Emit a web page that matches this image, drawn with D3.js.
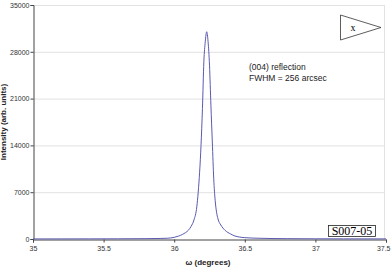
<!DOCTYPE html>
<html>
<head>
<meta charset="utf-8">
<script src="https://cdn.jsdelivr.net/npm/d3@7"></script>
<style>
  body { margin: 0; background: #fff; }
  svg { display: block; font-family: "Liberation Sans", Arial, sans-serif; }
</style>
</head>
<body>
<div id="mydiv"></div>
<script>
// rocking curve
const omega = [35.00, 35.20, 35.40, 35.60, 35.80, 35.90, 35.95, 36.00, 36.03, 36.06,
  36.08, 36.10, 36.12, 36.14, 36.16, 36.17, 36.18, 36.19, 36.20, 36.21,
  36.22, 36.23, 36.24, 36.25, 36.26, 36.27, 36.28, 36.29, 36.30, 36.31,
  36.33, 36.36, 36.40, 36.43, 36.46, 36.50, 36.60, 36.70, 36.80, 37.00,
  37.20, 37.50];
const intensity = [10, 15, 20, 30, 50, 80, 110, 250, 430, 700,
  950, 1300, 1900, 2850, 4800, 7000, 10000, 14000, 19500, 26500,
  29500, 31000, 29500, 26000, 20000, 14500, 9000, 5800, 4000, 3000,
  2100, 1300, 750, 450, 300, 200, 110, 70, 50, 30,
  20, 15];
const xTicks = [35, 35.5, 36, 36.5, 37, 37.5];
const yTicks = [0, 7000, 14000, 21000, 28000, 35000];
const notes = ["(004) reflection", "FWHM = 256 arcsec"];
const sampleId = "S007-05";

const W = 391, H = 268;
const mLeft = 33, mRight = 386, mTop = 5, mBottom = 239;

const svg = d3.select("#mydiv")
  .append("svg")
  .attr("width", W)
  .attr("height", H);

const x = d3.scaleLinear().domain([35, 37.5]).range([mLeft, mRight]);
const y = d3.scaleLinear().domain([0, 35000]).range([mBottom, mTop]);

// grid lines
svg.append("g")
  .selectAll("line")
  .data(yTicks.slice(1))
  .enter().append("line")
  .attr("x1", mLeft).attr("x2", mRight - 1.5)
  .attr("y1", d => y(d) + 0.5).attr("y2", d => y(d) + 0.5)
  .style("stroke", "#e2e2e2")
  .style("stroke-width", 1);

// right border
svg.append("line")
  .attr("x1", mRight - 1.5).attr("x2", mRight - 1.5)
  .attr("y1", mTop).attr("y2", mBottom)
  .style("stroke", "#e2e2e2");

// y axis
const yAxis = svg.append("g")
  .attr("transform", `translate(${mLeft + 0.5},0)`)
  .call(d3.axisLeft(y).tickValues(yTicks).tickSize(3).tickFormat(d3.format("d")));
yAxis.select(".domain").style("stroke", "#444");
yAxis.selectAll(".tick line").style("stroke", "#444");
yAxis.selectAll("text")
  .style("font-size", "7px")
  .style("fill", "#333")
  .attr("x", -4);

// x axis
const xAxis = svg.append("g")
  .attr("transform", `translate(0,${mBottom + 0.5})`)
  .call(d3.axisBottom(x).tickValues(xTicks).tickSize(3).tickFormat(d3.format("")));
xAxis.select(".domain").style("stroke", "#444");
xAxis.selectAll(".tick line").style("stroke", "#444");
xAxis.selectAll("text")
  .style("font-size", "7px")
  .style("fill", "#333")
  .attr("y", 7);
// keep the last label inside the window
xAxis.selectAll(".tick text")
  .filter(d => d === 37.5)
  .attr("text-anchor", "end")
  .attr("x", 4);

// the curve
const pts = omega.map((o, i) => [o, intensity[i]]);
svg.append("path")
  .datum(pts)
  .attr("d", d3.line().x(d => x(d[0])).y(d => y(d[1])).curve(d3.curveMonotoneX))
  .style("fill", "none")
  .style("stroke", "#5a5ab0")
  .style("stroke-width", 1);

// axis titles
svg.append("text")
  .attr("x", 208).attr("y", 265)
  .attr("text-anchor", "middle")
  .style("font-size", "8px")
  .style("font-weight", "bold")
  .style("fill", "#222")
  .text("ω (degrees)");

svg.append("text")
  .attr("transform", "translate(6,122) rotate(-90)")
  .attr("text-anchor", "middle")
  .style("font-size", "8px")
  .style("font-weight", "bold")
  .style("fill", "#222")
  .text("Intensity (arb. units)");

// annotation
svg.append("g")
  .selectAll("text")
  .data(notes)
  .enter().append("text")
  .attr("x", 249)
  .attr("y", (d, i) => 70 + i * 11)
  .style("font-size", "8.5px")
  .style("fill", "#222")
  .text(d => d);

// triangle marker
svg.append("path")
  .attr("d", "M340.5,15 L340.5,40 L381,27.5 Z")
  .style("fill", "#fff")
  .style("stroke", "#333")
  .style("stroke-width", 0.8);
svg.append("text")
  .attr("x", 353).attr("y", 31)
  .attr("text-anchor", "middle")
  .style("font-family", "'Liberation Serif', 'Times New Roman', serif")
  .style("font-size", "10px")
  .text("x");

// sample label
svg.append("rect")
  .attr("x", 328.5).attr("y", 225.5)
  .attr("width", 47).attr("height", 11)
  .style("fill", "#fff")
  .style("stroke", "#222")
  .style("stroke-width", 0.8);
svg.append("text")
  .attr("x", 352).attr("y", 235)
  .attr("text-anchor", "middle")
  .style("font-family", "'Liberation Serif', 'Times New Roman', serif")
  .style("font-size", "12px")
  .text(sampleId);
</script>
</body>
</html>
